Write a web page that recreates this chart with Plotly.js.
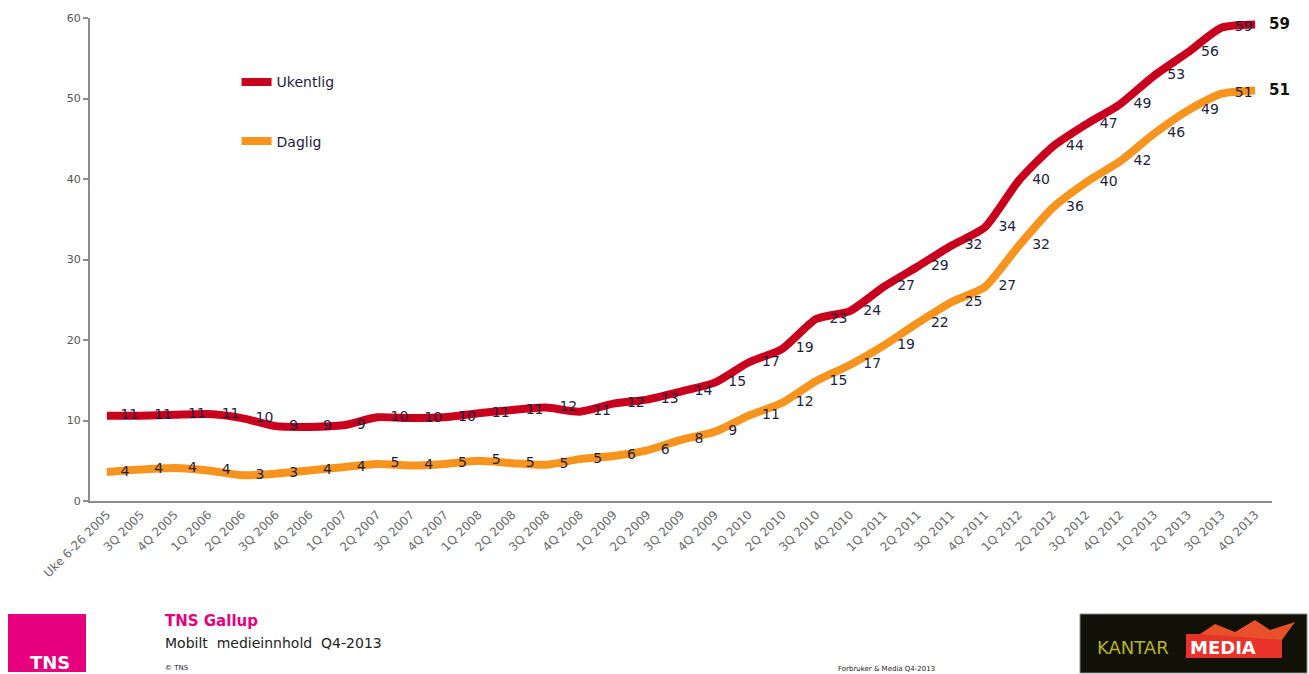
<!DOCTYPE html>
<html>
<head>
<meta charset="utf-8">
<script src="https://cdn.plot.ly/plotly-3.0.1.min.js"></script>
<style>
html,body{margin:0;padding:0;background:#fff;}
#chart{width:1309px;height:674px;}
</style>
</head>
<body>
<div id="chart"></div>
<script>
const categories = ["Uke 6-26 2005","3Q 2005","4Q 2005","1Q 2006","2Q 2006","3Q 2006","4Q 2006","1Q 2007","2Q 2007","3Q 2007","4Q 2007","1Q 2008","2Q 2008","3Q 2008","4Q 2008","1Q 2009","2Q 2009","3Q 2009","4Q 2009","1Q 2010","2Q 2010","3Q 2010","4Q 2010","1Q 2011","2Q 2011","3Q 2011","4Q 2011","1Q 2012","2Q 2012","3Q 2012","4Q 2012","1Q 2013","2Q 2013","3Q 2013","4Q 2013"];
const ukentlig = [10.6,10.6,10.7,10.8,10.3,9.3,9.2,9.4,10.4,10.3,10.4,10.9,11.3,11.6,11.1,12.1,12.6,13.6,14.7,17.2,18.9,22.6,23.6,26.6,29.1,31.7,34.0,39.8,44.0,46.8,49.3,52.8,55.7,58.8,59.2];
const daglig = [3.6,3.9,4.1,3.8,3.2,3.4,3.8,4.2,4.6,4.4,4.6,5.0,4.7,4.5,5.2,5.6,6.3,7.6,8.6,10.6,12.2,14.9,16.9,19.3,22.1,24.7,26.6,31.7,36.4,39.6,42.2,45.6,48.5,50.6,51.0];
const seriesNames = ["Ukentlig","Daglig"];
const seriesColors = ["#C8001E","#F7941D"];

function labels(arr){
  return arr.map((v,i)=> i===arr.length-1 ? "" : String(Math.round(v)));
}
function trace(vals, idx){
  return {
    x: categories, y: vals, name: seriesNames[idx], legendgroup: "g"+idx,
    type: "scatter", mode: "lines+markers+text",
    line: {color: seriesColors[idx], width: 8, shape: "spline", smoothing: 0.6},
    marker: {size: 20, color: "rgba(0,0,0,0)"},
    text: labels(vals), textposition: "middle right",
    textfont: {family: "DejaVu Sans, Verdana, sans-serif", size: 14, color: "#1E1E3C"},
    cliponaxis: false, hoverinfo: "x+y"
  };
}
const data = [trace(ukentlig,0), trace(daglig,1)];

const last = categories.length-1;
const annotations = [
  {x: categories[last], y: ukentlig[last], xref:"x", yref:"y", text:"<b>"+Math.round(ukentlig[last])+"</b>", showarrow:false, xanchor:"left", xshift:12, font:{family:"DejaVu Sans, Verdana, sans-serif", size:15, color:"#111"}},
  {x: categories[last], y: daglig[last], xref:"x", yref:"y", text:"<b>"+Math.round(daglig[last])+"</b>", showarrow:false, xanchor:"left", xshift:12, font:{family:"DejaVu Sans, Verdana, sans-serif", size:15, color:"#111"}},
  {xref:"paper", yref:"paper", x:(28-90)/1182, y:(501-662)/483, xanchor:"left", yanchor:"middle", text:"<b>TNS</b>", showarrow:false, font:{family:"DejaVu Sans, Verdana, sans-serif", size:18, color:"#fff"}},
  {xref:"paper", yref:"paper", x:(163-90)/1182, y:(501-621)/483, xanchor:"left", yanchor:"middle", text:"<b>TNS Gallup</b>", showarrow:false, font:{family:"DejaVu Sans, Verdana, sans-serif", size:15, color:"#E6007E"}},
  {xref:"paper", yref:"paper", x:(163-90)/1182, y:(501-643)/483, xanchor:"left", yanchor:"middle", text:"Mobilt  medieinnhold  Q4-2013", showarrow:false, font:{family:"DejaVu Sans, Verdana, sans-serif", size:14, color:"#222"}},
  {xref:"paper", yref:"paper", x:(163-90)/1182, y:(501-668)/483, xanchor:"left", yanchor:"middle", text:"© TNS", showarrow:false, font:{family:"DejaVu Sans, Verdana, sans-serif", size:7, color:"#222"}},
  {xref:"paper", yref:"paper", x:(836-90)/1182, y:(501-669)/483, xanchor:"left", yanchor:"middle", text:"Forbruker & Media Q4-2013", showarrow:false, font:{family:"DejaVu Sans, Verdana, sans-serif", size:7, color:"#222"}},
  {xref:"paper", yref:"paper", x:(1095-90)/1182, y:(501-647)/483, xanchor:"left", yanchor:"middle", text:"KANTAR", showarrow:false, font:{family:"DejaVu Sans, Verdana, sans-serif", size:18, color:"#B5B521"}},
  {xref:"paper", yref:"paper", x:(1188-90)/1182, y:(501-647)/483, xanchor:"left", yanchor:"middle", text:"<b>MEDIA</b>", showarrow:false, font:{family:"DejaVu Sans, Verdana, sans-serif", size:18, color:"#fff"}}
];

const px = v => (v-90)/1182;
const py = v => (501-v)/483;
const shapes = [
  {type:"rect", xref:"paper", yref:"paper", x0:px(8), x1:px(86), y0:py(672), y1:py(614), fillcolor:"#E6007E", line:{width:0}, layer:"below"},
  {type:"rect", xref:"paper", yref:"paper", x0:px(1080), x1:px(1307), y0:py(673), y1:py(614), fillcolor:"#111108", line:{width:1,color:"#888"}, layer:"below"},
  {type:"rect", xref:"paper", yref:"paper", x0:px(1186), x1:px(1282), y0:py(658), y1:py(634), fillcolor:"#E8322A", line:{width:0}, layer:"below"},
  {type:"path", xref:"paper", yref:"paper", path:"M "+px(1200)+" "+py(634)+" L "+px(1215)+" "+py(624)+" L "+px(1235)+" "+py(632)+" L "+px(1255)+" "+py(620)+" L "+px(1270)+" "+py(630)+" L "+px(1295)+" "+py(622)+" L "+px(1282)+" "+py(640)+" Z", fillcolor:"#E8502A", line:{width:0}, layer:"below"}
];

const layout = {
  width:1309, height:674,
  margin:{l:90, r:37, t:18, b:173},
  paper_bgcolor:"#fff", plot_bgcolor:"#fff",
  showlegend:true,
  legend:{x:0.124, y:0.9, xanchor:"left", yanchor:"top", bgcolor:"rgba(0,0,0,0)", tracegroupgap:38,
    font:{family:"DejaVu Sans, Verdana, sans-serif", size:14, color:"#1E1E3C"}, itemwidth:30},
  xaxis:{type:"category", range:[-0.5, categories.length-0.5], autorange:false, tickangle:-45, showgrid:false, zeroline:false, showline:true, linecolor:"#8c8c8c", linewidth:2,
    ticks:"", tickfont:{family:"DejaVu Sans, Verdana, sans-serif", size:12, color:"#6a6a6a"}, fixedrange:true},
  yaxis:{range:[0,60], dtick:10, showgrid:false, zeroline:false, showline:true, linecolor:"#8c8c8c", linewidth:2,
    ticks:"outside", ticklen:5, tickcolor:"#8c8c8c", tickwidth:2,
    tickfont:{family:"DejaVu Sans, Verdana, sans-serif", size:11, color:"#555"}, fixedrange:true},
  annotations: annotations,
  shapes: shapes
};

Plotly.newPlot("chart", data, layout, {displayModeBar:false, responsive:false});
</script>
</body>
</html>
